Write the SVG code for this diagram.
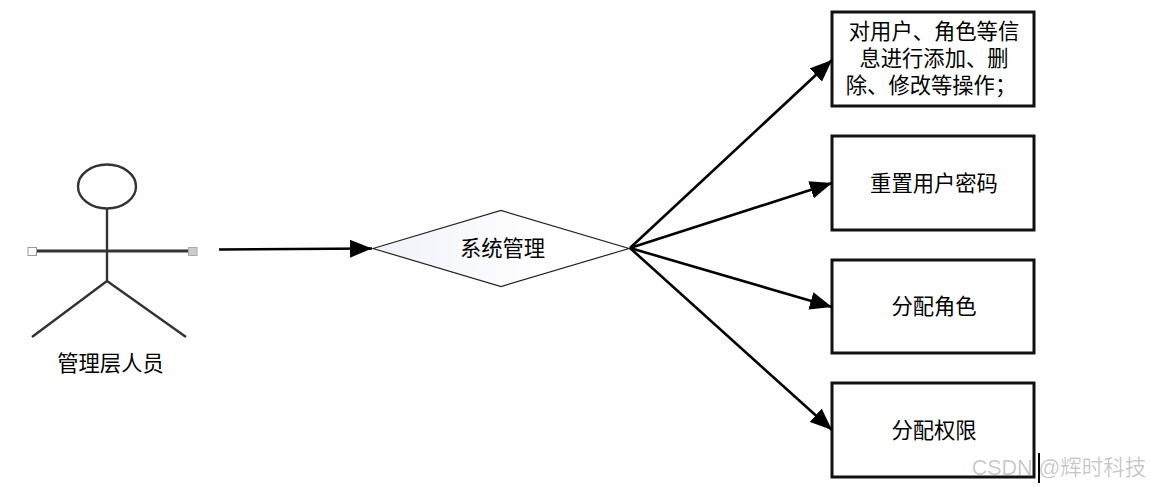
<svg xmlns="http://www.w3.org/2000/svg" width="1150" height="487" viewBox="0 0 1150 487">
<style>
text{font-family:"Liberation Sans","Noto Sans CJK SC",sans-serif;font-size:21.300px;fill:#000;text-anchor:middle}
.box{fill:#fff;stroke:#111;stroke-width:3}
.conn{fill:none;stroke:#000;stroke-width:2.6}
.st{fill:none;stroke:#333;stroke-width:2.400}
</style>
<defs>
<linearGradient id="g" x1="0" y1="0" x2="1" y2="0"><stop offset="0" stop-color="#f0f2fa"/><stop offset="0.7" stop-color="#fff"/></linearGradient>
<marker id="a" markerUnits="userSpaceOnUse" markerWidth="24" markerHeight="18" refX="22" refY="9" orient="auto"><path d="M0 0L22 9L0 18Z" fill="#000"/></marker>
</defs>
<rect width="1150" height="487" fill="#fff"/>
<g id="actor">
<ellipse class="st" cx="107" cy="186.500" rx="29" ry="22"/>
<path class="st" d="M107 208.500V281M32 337L107 281L186 337"/>
<path class="st" style="stroke-width:3" d="M36 251H190"/>
<rect x="28" y="247.500" width="8.500" height="8" fill="#fff" stroke="#999"/>
<rect x="188.500" y="247.500" width="8.500" height="8" fill="#ccc" stroke="#aaa"/>
<text x="110.500" y="371">管理层人员</text>
</g>
<g id="decision">
<path d="M373 248.500L501 210.500L629 248.500L501 286.500Z" fill="url(#g)" stroke="#222" stroke-width="1.200"/>
<text x="502.500" y="256">系统管理</text>
</g>
<g id="box1"><rect class="box" x="832" y="12" width="202" height="94"/>
<text x="934" y="39">对用户、角色等信</text><text x="934" y="66">息进行添加、删</text><text x="931" y="93">除、修改等操作；</text></g>
<g id="box2"><rect class="box" x="832" y="136" width="202" height="94"/><text x="934" y="191">重置用户密码</text></g>
<g id="box3"><rect class="box" x="832" y="260" width="202" height="93"/><text x="934" y="314">分配角色</text></g>
<g id="box4"><rect class="box" x="832" y="383" width="202" height="94"/><text x="934" y="438">分配权限</text></g>
<g id="connectors">
<path class="conn" marker-end="url(#a)" d="M219 249.500L372 248.500"/>
<path class="conn" marker-end="url(#a)" d="M630 248L832 60"/>
<path class="conn" marker-end="url(#a)" d="M630 248L832 183"/>
<path class="conn" marker-end="url(#a)" d="M630 248L832 307"/>
<path class="conn" marker-end="url(#a)" d="M630 248L832 430"/>
</g>
<path d="M1039 453V483" stroke="#000" stroke-width="2"/>
<text x="1059" y="475" style="font-size:21.500px;fill:#000;fill-opacity:.22">CSDN @辉时科技</text>
</svg>
